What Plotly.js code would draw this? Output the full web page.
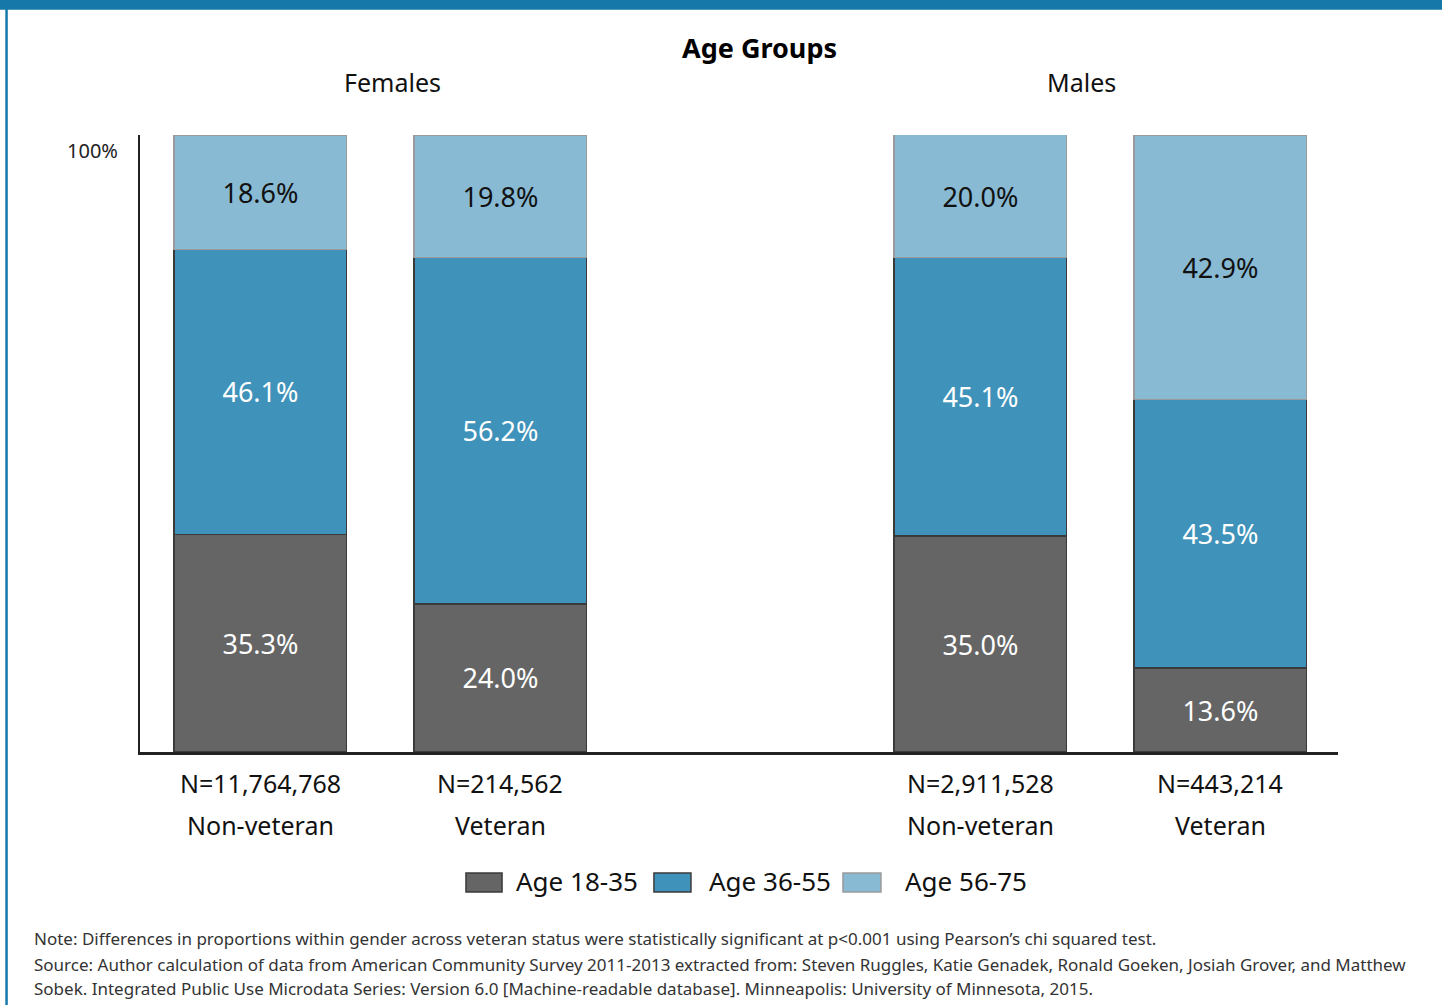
<!DOCTYPE html>
<html>
<head>
<meta charset="utf-8">
<script src="https://cdn.plot.ly/plotly-3.0.1.min.js"></script>
<style>
html,body{margin:0;padding:0;background:#fff;}
#chart{width:1442px;height:1005px;}
</style>
</head>
<body>
<div id="chart"></div>
<script>
// ---- data ----
const genders = ['Females', 'Males'];
const statuses = ['Non-veteran', 'Veteran'];
const sampleSizes = ['N=11,764,768', 'N=214,562', 'N=2,911,528', 'N=443,214'];
const seriesNames = ['Age 18-35', 'Age 36-55', 'Age 56-75'];
const age18_35 = [35.3, 24.0, 35.0, 13.6];
const age36_55 = [46.1, 56.2, 45.1, 43.5];
const age56_75 = [18.6, 19.8, 20.0, 42.9];
const chartTitle = 'Age Groups';
const noteLines = [
  'Note: Differences in proportions within gender across veteran status were statistically significant at p<0.001 using Pearson\u2019s chi squared test.',
  'Source: Author calculation of data from American Community Survey 2011-2013 extracted from: Steven Ruggles, Katie Genadek, Ronald Goeken, Josiah Grover, and Matthew',
  'Sobek. Integrated Public Use Microdata Series: Version 6.0 [Machine-readable database]. Minneapolis: University of Minnesota, 2015.'
];

// ---- layout helpers ----
const FONT = 'Noto Sans, Open Sans, sans-serif';
const colors = ['#656565', '#3f92b9', '#88bad3'];
const lineColors = ['#3a3a3a', '#3a3a3a', '#9a9a9a'];
const textColors = ['#ffffff', '#ffffff', '#111111'];
const series = [age18_35, age36_55, age56_75];

// x position: gender group * 3 + status index (leaves a gap between groups)
const xs = [];
genders.forEach((g, gi) => statuses.forEach((s, si) => xs.push(gi * 3 + si)));

const traces = series.map((vals, i) => ({
  type: 'bar',
  name: seriesNames[i],
  x: xs,
  y: vals,
  width: 0.72,
  marker: {color: colors[i], line: {color: lineColors[i], width: 1.2}},
  text: vals.map(v => v.toFixed(1) + '%'),
  textposition: 'inside',
  insidetextanchor: 'middle',
  textangle: 0,
  constraintext: 'none',
  textfont: {family: FONT, size: 27, color: textColors[i]},
  hoverinfo: 'skip',
  showlegend: false
}));

const annotations = [];
// title
annotations.push({text: '<b>' + chartTitle + '</b>', xref: 'paper', yref: 'paper', x: 0.5167, y: 1.1426,
  xanchor: 'center', yanchor: 'middle', showarrow: false, font: {family: FONT, size: 27, color: '#000'}});
// group headers
genders.forEach((g, gi) => {
  annotations.push({text: g, xref: 'x', yref: 'paper', x: gi * 3 + 0.5 + (gi === 0 ? 0.052 : -0.08), y: 1.0859,
    xanchor: 'center', yanchor: 'middle', showarrow: false, font: {family: FONT, size: 25, color: '#111'}});
});
// x labels (two rows)
xs.forEach((x, i) => {
  annotations.push({text: sampleSizes[i], xref: 'x', yref: 'paper', x: x, y: -0.0502,
    xanchor: 'center', yanchor: 'middle', showarrow: false, font: {family: FONT, size: 25, color: '#111'}});
  annotations.push({text: statuses[i % 2], xref: 'x', yref: 'paper', x: x, y: -0.1183,
    xanchor: 'center', yanchor: 'middle', showarrow: false, font: {family: FONT, size: 25, color: '#111'}});
});
// 100% label
annotations.push({text: '100%', xref: 'paper', yref: 'y', x: -0.0167, y: 100, yshift: -15,
  xanchor: 'right', yanchor: 'middle', showarrow: false, font: {family: FONT, size: 20, color: '#222'}});

// legend (custom swatches)
const swX = [[0.2721, 0.3022], [0.4290, 0.4599], [0.5868, 0.6185]];
const lgTextX = [0.3122, 0.4733, 0.6369];
const shapes = [];
seriesNames.forEach((n, i) => {
  shapes.push({type: 'rect', xref: 'paper', yref: 'paper', x0: swX[i][0], x1: swX[i][1], y0: -0.1961, y1: -0.2269,
    fillcolor: colors[i], line: {color: lineColors[i], width: 1.5}});
  annotations.push({text: n, xref: 'paper', yref: 'paper', x: lgTextX[i], y: -0.2091,
    xanchor: 'left', yanchor: 'middle', showarrow: false, font: {family: FONT, size: 26, color: '#111'}});
});
// notes
const noteY = [-0.3015, -0.3436, -0.3841];
noteLines.forEach((t, i) => {
  annotations.push({text: t, xref: 'paper', yref: 'paper', x: -0.0902, y: noteY[i],
    xanchor: 'left', yanchor: 'middle', showarrow: false, font: {family: FONT, size: 17, color: '#333'}});
});
// frame decorations
shapes.push({type: 'rect', xref: 'paper', yref: 'paper', x0: -0.2, x1: 1.2, y0: 1.2028, y1: 1.3,
  fillcolor: '#1578a9', line: {width: 0}});
shapes.push({type: 'line', xref: 'paper', yref: 'paper', x0: -0.1114, x1: -0.1114, y0: 1.21, y1: -0.5,
  line: {color: '#1578a9', width: 2.5}});

const layout = {
  width: 1442, height: 1005,
  margin: {l: 140, r: 104, t: 135, b: 253},
  paper_bgcolor: '#fff', plot_bgcolor: '#fff',
  barmode: 'stack',
  xaxis: {range: [-0.502, 4.49], showgrid: false, zeroline: false, showticklabels: false, ticks: '',
    showline: true, linecolor: '#222', linewidth: 2.5, fixedrange: true},
  yaxis: {range: [0, 100], showgrid: false, zeroline: false, showticklabels: false, ticks: '',
    showline: true, linecolor: '#222', linewidth: 2.5, fixedrange: true},
  annotations: annotations,
  shapes: shapes,
  showlegend: false,
  font: {family: FONT}
};

Plotly.newPlot('chart', traces, layout, {displayModeBar: false, staticPlot: true});
</script>
</body>
</html>
